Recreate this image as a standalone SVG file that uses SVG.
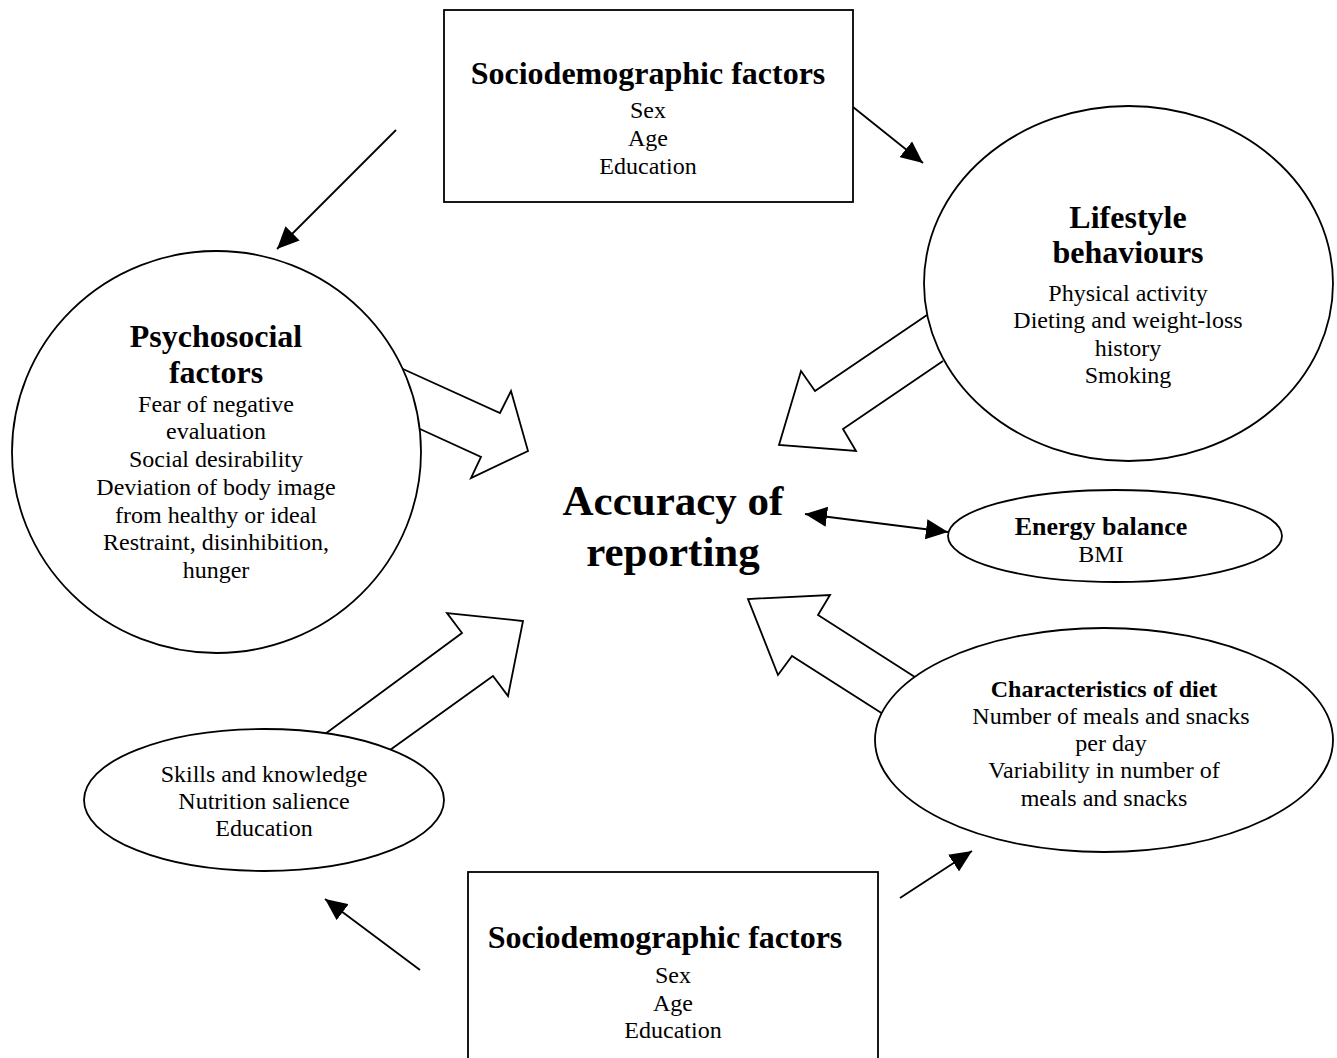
<svg xmlns="http://www.w3.org/2000/svg" width="1337" height="1058" viewBox="0 0 1337 1058">
<defs>
<style>
.shape{fill:#fff;stroke:#000;stroke-width:1.8}
.blk{fill:#fff;stroke:#000;stroke-width:1.8;stroke-linejoin:miter}
.ln{stroke:#000;stroke-width:1.8;fill:none}
text{font-family:"Liberation Serif","Times New Roman",serif;fill:#000;text-anchor:middle}
.t{font-size:24px}
.h{font-size:32px;font-weight:bold}
.h2{font-size:24px;font-weight:bold}
.main{font-size:43px;font-weight:bold}
</style>
<marker id="ah" viewBox="0 0 22 20" refX="22" refY="10" markerWidth="22" markerHeight="20" markerUnits="userSpaceOnUse" orient="auto-start-reverse">
<path d="M0,0 L22,10 L0,20 Z" fill="#000"/>
</marker>
</defs>
<rect width="1337" height="1058" fill="#fff"/>

<g id="connectors">
<line class="ln" x1="396" y1="130" x2="277" y2="249" marker-end="url(#ah)"/>
<line class="ln" x1="853" y1="107" x2="923" y2="163" marker-end="url(#ah)"/>
<line class="ln" x1="420" y1="970" x2="325" y2="899" marker-end="url(#ah)"/>
<line class="ln" x1="900" y1="898" x2="972" y2="851" marker-end="url(#ah)"/>
<line class="ln" x1="805" y1="514" x2="948" y2="532" marker-start="url(#ah)" marker-end="url(#ah)"/>
<polyline class="blk" points="403,369 500,413 511,391 528,451 471,478 481,457 420,429"/>
<polyline class="blk" points="927,315 815,391 801,371 779,445 856,451 843,429 943,361"/>
<polyline class="blk" points="325,734 462,633 447,613 523,621 508,696 493,676 390,750"/>
<polyline class="blk" points="918,679 818,615 830,595 748,599 778,675 792,656 883,714"/>
</g>

<g id="socio-top">
<rect class="shape" x="444" y="10" width="409" height="192"/>
<text class="h" x="648" y="84">Sociodemographic factors</text>
<text class="t" x="648" y="118">Sex</text>
<text class="t" x="648" y="146">Age</text>
<text class="t" x="648" y="174">Education</text>
</g>

<g id="psychosocial">
<ellipse class="shape" cx="216.5" cy="452" rx="204.5" ry="201"/>
<text class="h" x="216" y="347">Psychosocial</text>
<text class="h" x="216" y="383">factors</text>
<text class="t" x="216" y="412">Fear of negative</text>
<text class="t" x="216" y="439">evaluation</text>
<text class="t" x="216" y="467">Social desirability</text>
<text class="t" x="216" y="495">Deviation of body image</text>
<text class="t" x="216" y="523">from healthy or ideal</text>
<text class="t" x="216" y="550">Restraint, disinhibition,</text>
<text class="t" x="216" y="578">hunger</text>
</g>

<g id="lifestyle">
<ellipse class="shape" cx="1128.5" cy="283.5" rx="204.5" ry="177.5"/>
<text class="h" x="1128" y="228">Lifestyle</text>
<text class="h" x="1128" y="263">behaviours</text>
<text class="t" x="1128" y="301">Physical activity</text>
<text class="t" x="1128" y="328">Dieting and weight-loss</text>
<text class="t" x="1128" y="356">history</text>
<text class="t" x="1128" y="383">Smoking</text>
</g>

<g id="accuracy">
<text class="main" x="673" y="515">Accuracy of</text>
<text class="main" x="673" y="566">reporting</text>
</g>

<g id="energy">
<ellipse class="shape" cx="1115" cy="536" rx="167" ry="46"/>
<text class="h2" x="1101" y="535" style="font-size:26px">Energy balance</text>
<text class="t" x="1101" y="562">BMI</text>
</g>

<g id="diet">
<ellipse class="shape" cx="1104" cy="740" rx="229" ry="112"/>
<text class="h2" x="1104" y="697">Characteristics of diet</text>
<text class="t" x="1111" y="724">Number of meals and snacks</text>
<text class="t" x="1111" y="751">per day</text>
<text class="t" x="1104" y="778">Variability in number of</text>
<text class="t" x="1104" y="806">meals and snacks</text>
</g>

<g id="skills">
<ellipse class="shape" cx="264" cy="800" rx="180" ry="71"/>
<text class="t" x="264" y="782">Skills and knowledge</text>
<text class="t" x="264" y="809">Nutrition salience</text>
<text class="t" x="264" y="836">Education</text>
</g>

<g id="socio-bottom">
<rect class="shape" x="468" y="872" width="410" height="200"/>
<text class="h" x="665" y="948">Sociodemographic factors</text>
<text class="t" x="673" y="983">Sex</text>
<text class="t" x="673" y="1011">Age</text>
<text class="t" x="673" y="1038">Education</text>
</g>
</svg>
